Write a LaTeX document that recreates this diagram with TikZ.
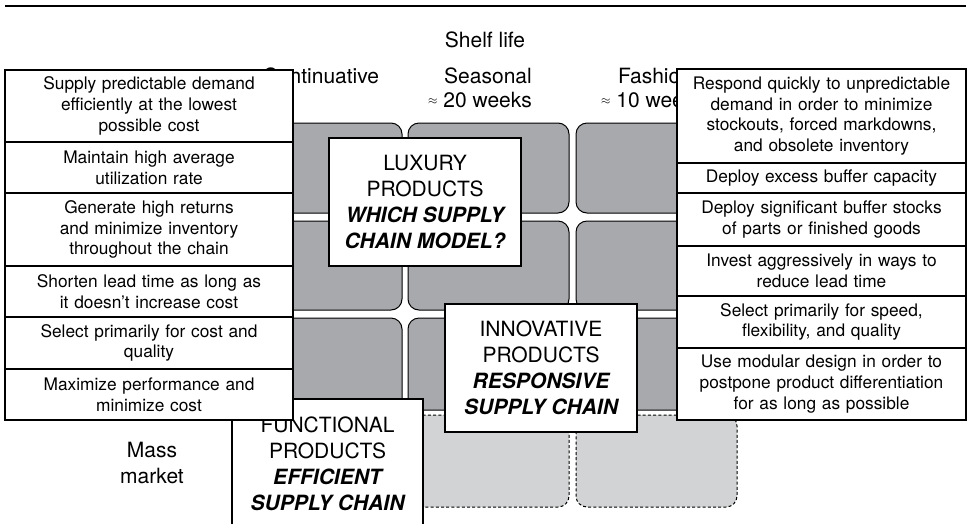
\documentclass[tikz,border=0pt]{standalone}
\usepackage{fontspec}
\setmainfont{TeX Gyre Heros}
\definecolor{tilegray}{HTML}{A7A9AC}
\definecolor{tilelight}{HTML}{D1D3D4}
\newcommand{\apx}{\raisebox{3.5pt}{\fontsize{12}{12}\selectfont$\approx$}}
\begin{document}
\begin{tikzpicture}[x=1pt,y=-1pt,
  tile/.style={draw=black, line width=1pt, fill=tilegray, rounded corners=11pt},
  ltile/.style={draw=black, line width=1pt, fill=tilelight, rounded corners=11pt, dash pattern=on 3pt off 2.2pt},
  lcell/.style={draw=black, line width=1.1pt, fill=white, align=center, inner xsep=4pt, inner ysep=0pt,
    text width=280pt, font=\fontsize{17.3}{20.8}\selectfont},
  rcell/.style={lcell, text width=281pt},
  titlebox/.style={draw=black, line width=1.1pt, fill=white, align=center, inner sep=0pt,
    minimum width=192pt, minimum height=128pt, font=\fontsize{21}{26}\selectfont},
  hdr/.style={align=center, inner sep=0pt, font=\fontsize{21}{26}\selectfont}]
\clip (0,0) rectangle (969,523);
% top rule
\coordinate (ruleL) at (5,6);
\coordinate (ruleR) at (966,6);
\draw[line width=1.1pt] (ruleL) -- (ruleR);
% tiles
\foreach \xa/\xb in {241/402, 408/569, 576/737}{
  \path[tile] (\xa,123) rectangle (\xb,213);
  \path[tile] (\xa,221) rectangle (\xb,310);
  \path[tile] (\xa,318) rectangle (\xb,410);
  \path[ltile] (\xa,415) rectangle (\xb,507);
}
% headers
\node[hdr] (shelf) at (485,40) {Shelf life};
\node[hdr] (cont) at (321,76) {Continuative};
\node[hdr] (seas) at (488,76) {Seasonal};
\node[hdr] (seasw) at (480,100) {\apx\ 20 weeks};
\node[hdr] (fash) at (655,76) {Fashion};
\node[hdr] (fashw) at (653,100) {\apx\ 10 weeks};
\node[hdr] (mass) at (152,463) {Mass\\market};
% product boxes
\node[titlebox, minimum width=191pt, minimum height=130pt] (fun) at (327.5,464)
  {FUNCTIONAL\\PRODUCTS\\{\bfseries\itshape EFFICIENT}\\{\bfseries\itshape SUPPLY CHAIN}};
\node[titlebox] (lux) at (425,202)
  {LUXURY\\PRODUCTS\\{\bfseries\itshape WHICH SUPPLY}\\{\bfseries\itshape CHAIN MODEL?}};
\node[titlebox] (inn) at (541,368)
  {INNOVATIVE\\PRODUCTS\\{\bfseries\itshape RESPONSIVE}\\{\bfseries\itshape SUPPLY CHAIN}};
% left list
\node[lcell, minimum height=72pt] (L1) at (149,106) {Supply predictable demand\\efficiently at the lowest\\possible cost};
\node[lcell, minimum height=51pt] (L2) at (149,167.5) {Maintain high average\\utilization rate};
\node[lcell, minimum height=73pt] (L3) at (149,229.5) {Generate high returns\\and minimize inventory\\throughout the chain};
\node[lcell, minimum height=51pt] (L4) at (149,291.5) {Shorten lead time as long as\\it doesn’t increase cost};
\node[lcell, minimum height=52pt] (L5) at (149,343) {Select primarily for cost and\\quality};
\node[lcell, minimum height=51pt] (L6) at (149,394.5) {Maximize performance and\\minimize cost};
% right list
\node[rcell, minimum height=94pt] (R1) at (821.5,116) {Respond quickly to unpredictable\\demand in order to minimize\\stockouts, forced markdowns,\\and obsolete inventory};
\node[rcell, minimum height=30pt] (R2) at (821.5,178) {Deploy excess buffer capacity};
\node[rcell, minimum height=53pt] (R3) at (821.5,219.5) {Deploy significant buffer stocks\\of parts or finished goods};
\node[rcell, minimum height=50pt] (R4) at (821.5,271) {Invest aggressively in ways to\\reduce lead time};
\node[rcell, minimum height=52pt] (R5) at (821.5,322) {Select primarily for speed,\\flexibility, and quality};
\node[rcell, minimum height=72pt] (R6) at (821.5,384) {Use modular design in order to\\postpone product differentiation\\for as long as possible};
\end{tikzpicture}
\end{document}
